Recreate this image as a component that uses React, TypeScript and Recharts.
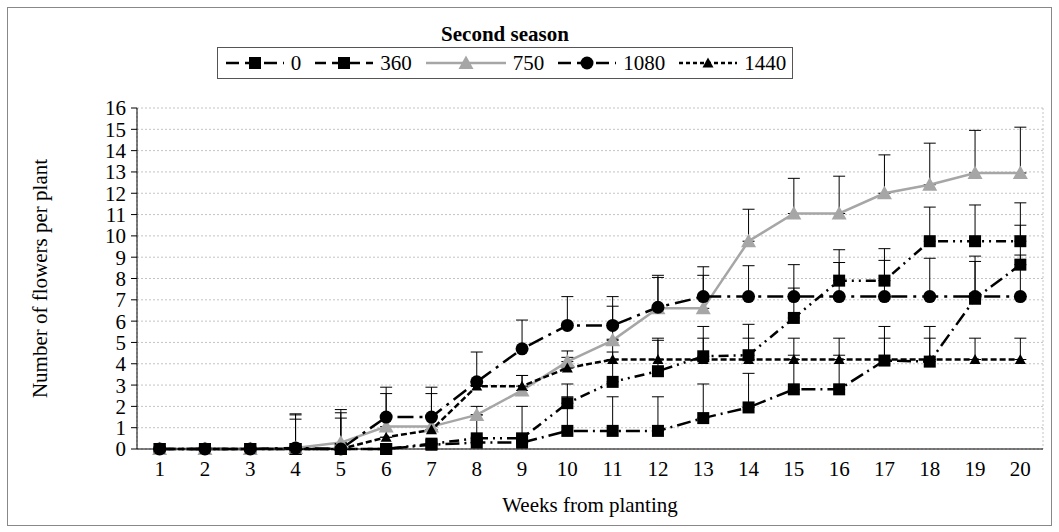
import { LineChart, Line, XAxis, YAxis, CartesianGrid, ErrorBar, Label } from 'recharts'

const weeks = [1, 2, 3, 4, 5, 6, 7, 8, 9, 10, 11, 12, 13, 14, 15, 16, 17, 18, 19, 20]
const yTicks = [0, 1, 2, 3, 4, 5, 6, 7, 8, 9, 10, 11, 12, 13, 14, 15, 16]

// mean flowers per plant for each rate
const dose0 = [0, 0, 0, 0, 0, 0, 0.2, 0.3, 0.3, 0.85, 0.85, 0.85, 1.45, 1.95, 2.8, 2.8, 4.15, 4.1, 7.05, 8.65]
const dose360 = [0, 0, 0, 0, 0, 0, 0.25, 0.5, 0.5, 2.15, 3.15, 3.65, 4.35, 4.4, 6.15, 7.9, 7.9, 9.75, 9.75, 9.75]
const dose750 = [0, 0, 0, 0.05, 0.3, 1.05, 1.05, 1.6, 2.75, 4.1, 5.1, 6.6, 6.6, 9.75, 11.05, 11.05, 12.0, 12.4, 12.95, 12.95]
const dose1080 = [0, 0, 0, 0.05, 0, 1.5, 1.5, 3.15, 4.7, 5.8, 5.8, 6.65, 7.15, 7.15, 7.15, 7.15, 7.15, 7.15, 7.15, 7.15]
const dose1440 = [0, 0, 0, 0, 0, 0.55, 0.9, 2.95, 2.95, 3.8, 4.2, 4.2, 4.2, 4.2, 4.2, 4.2, 4.2, 4.2, 4.2, 4.2]

// upper error (SE) for each rate
const err0 = [0, 0, 0, 1.4, 0, 0, 0, 0, 0, 1.6, 1.6, 1.6, 1.6, 1.6, 1.6, 1.6, 1.6, 1.65, 1.75, 1.85]
const err360 = [0, 0, 0, 1.6, 1.7, 0, 0, 1.5, 1.5, 0.9, 1.4, 1.45, 1.4, 1.45, 1.4, 1.45, 1.5, 1.6, 1.7, 1.8]
const err750 = [0, 0, 0, 0, 1.55, 1.55, 1.55, 0, 0.7, 0.5, 1.6, 1.45, 1.55, 1.5, 1.65, 1.75, 1.8, 1.95, 2.0, 2.15]
const err1080 = [0, 0, 0, 1.6, 1.45, 1.4, 1.4, 1.4, 1.35, 1.35, 1.35, 1.5, 1.4, 1.45, 1.5, 1.6, 1.7, 1.8, 1.9, 1.95]
const err1440 = [0, 0, 0, 0, 0, 0, 0, 0, 0.5, 0.5, 0.95, 1.0, 1.0, 1.0, 1.0, 1.0, 1.0, 1.0, 1.0, 1.0]

const data = weeks.map((week, i) => ({
  week,
  d0: dose0[i], d360: dose360[i], d750: dose750[i], d1080: dose1080[i], d1440: dose1440[i],
  e0: [0, err0[i]], e360: [0, err360[i]], e750: [0, err750[i]], e1080: [0, err1080[i]], e1440: [0, err1440[i]],
}))

// category edges, used for the vertical grid and the x tick marks
const boundaries = [...weeks.map(w => w - 0.5), weeks[weeks.length - 1] + 0.5]

const FONT = 'Times New Roman, Liberation Serif, Tinos, DejaVu Serif, serif'
const GRAY = '#a6a6a6'

type Marker = 'square' | 'circle' | 'triangle' | 'smallTriangle'

function markerShape(kind: Marker, cx: number, cy: number, color: string, key?: string | number) {
  if (kind === 'square') return <rect key={key} x={cx - 6} y={cy - 6} width={12} height={12} fill={color} />
  if (kind === 'circle') return <circle key={key} cx={cx} cy={cy} r={6.5} fill={color} />
  const s = kind === 'triangle' ? 7.5 : 5.5
  return (
    <polygon
      key={key}
      points={`${cx},${cy - s} ${cx + s},${cy + s * 0.8} ${cx - s},${cy + s * 0.8}`}
      fill={color}
    />
  )
}

const makeDot = (kind: Marker, color: string) => (p: any) => {
  if (p.cx == null || p.cy == null) return <g key={p.index} />
  return markerShape(kind, p.cx, p.cy, color, p.index)
}

const SERIES = [
  { key: 'd0', err: 'e0', name: '0', color: '#000', dash: '14 5 2 5', legendDash: '13 6', marker: 'square' as Marker },
  { key: 'd360', err: 'e360', name: '360', color: '#000', dash: '10 5 2 5 2 5', legendDash: '11 6', marker: 'square' as Marker },
  { key: 'd750', err: 'e750', name: '750', color: GRAY, dash: undefined, legendDash: undefined, marker: 'triangle' as Marker },
  { key: 'd1080', err: 'e1080', name: '1080', color: '#000', dash: '16 6 3 6', legendDash: '13 6', marker: 'circle' as Marker },
  { key: 'd1440', err: 'e1440', name: '1440', color: '#000', dash: '6 3', legendDash: '4 3', marker: 'smallTriangle' as Marker },
]

function LegendBox() {
  return (
    <div
      style={{
        position: 'absolute', left: 217, top: 47,
        boxSizing: 'border-box', width: 576, height: 32, border: '1px solid #555',
        display: 'flex', alignItems: 'center', justifyContent: 'center', gap: 12,
        fontFamily: FONT, fontSize: 21, background: '#fff',
      }}
    >
      {SERIES.map(s => (
        <div key={s.key} style={{ display: 'flex', alignItems: 'center', gap: 5 }}>
          <svg width={s.name === '750' ? 84 : 62} height={20}>
            <line x1={2} y1={10} x2={s.name === '750' ? 82 : 60} y2={10} stroke={s.color} strokeWidth={2.5} strokeDasharray={s.legendDash} />
            {markerShape(s.marker, s.name === '750' ? 42 : 31, 10, s.color)}
          </svg>
          <span>{s.name}</span>
        </div>
      ))}
    </div>
  )
}

export default function App() {
  return (
    <div style={{ position: 'absolute', left: 0, top: 0, width: 1059, height: 532, background: '#fff' }}>
      <div
        style={{
          position: 'absolute', left: 7, top: 7, width: 1045, height: 519,
          border: '1px solid #888', boxSizing: 'border-box',
        }}
      />
      <div
        style={{
          position: 'absolute', left: 217, top: 23, width: 576, textAlign: 'center',
          fontFamily: FONT, fontWeight: 'bold', fontSize: 21, lineHeight: '22px',
        }}
      >
        Second season
      </div>
      <LegendBox />
      <LineChart
        width={1059}
        height={532}
        data={data}
        margin={{ top: 108, right: 16, bottom: 0, left: 0 }}
        style={{ position: 'absolute', left: 0, top: 0, fontFamily: FONT }}
      >
        <CartesianGrid stroke="#c4c4c4" strokeDasharray="2 2" />
        <XAxis
          type="number"
          dataKey="week"
          domain={[0.5, 20.5]}
          ticks={boundaries}
          tick={false}
          tickSize={6}
          height={1}
          stroke="#000"
        />
        <XAxis
          xAxisId="lbl"
          type="number"
          dataKey="week"
          domain={[0.5, 20.5]}
          ticks={weeks}
          interval={0}
          axisLine={false}
          tickLine={false}
          tickSize={6}
          tickMargin={5}
          height={82}
          tick={{ fill: '#000', fontSize: 21, fontFamily: FONT }}
        >
          <Label value="Weeks from planting" position="insideBottom" offset={20} fill="#000" fontSize={21} fontFamily={FONT} />
        </XAxis>
        <YAxis
          domain={[0, 16]}
          ticks={yTicks}
          interval={0}
          width={137}
          tickSize={6}
          tickMargin={5}
          stroke="#000"
          tick={{ fill: '#000', fontSize: 21, fontFamily: FONT }}
        >
          <Label
            content={(p: any) => {
              const vb = p.viewBox
              const x = vb.x + 40
              const y = vb.y + vb.height / 2
              return (
                <text x={x} y={y} transform={`rotate(-90 ${x} ${y})`} textAnchor="middle" dominantBaseline="central" fontSize={21} fontFamily={FONT} fill="#000">
                  Number of flowers per plant
                </text>
              )
            }}
          />
        </YAxis>
        {SERIES.map(s => (
          <Line
            key={s.key}
            dataKey={s.key}
            name={s.name}
            stroke={s.color}
            strokeWidth={2.5}
            strokeDasharray={s.dash}
            dot={makeDot(s.marker, s.color)}
            activeDot={false}
            isAnimationActive={false}
          >
            <ErrorBar dataKey={s.err} direction="y" width={6} stroke="#000" strokeWidth={1} isAnimationActive={false} />
          </Line>
        ))}
      </LineChart>
    </div>
  )
}
